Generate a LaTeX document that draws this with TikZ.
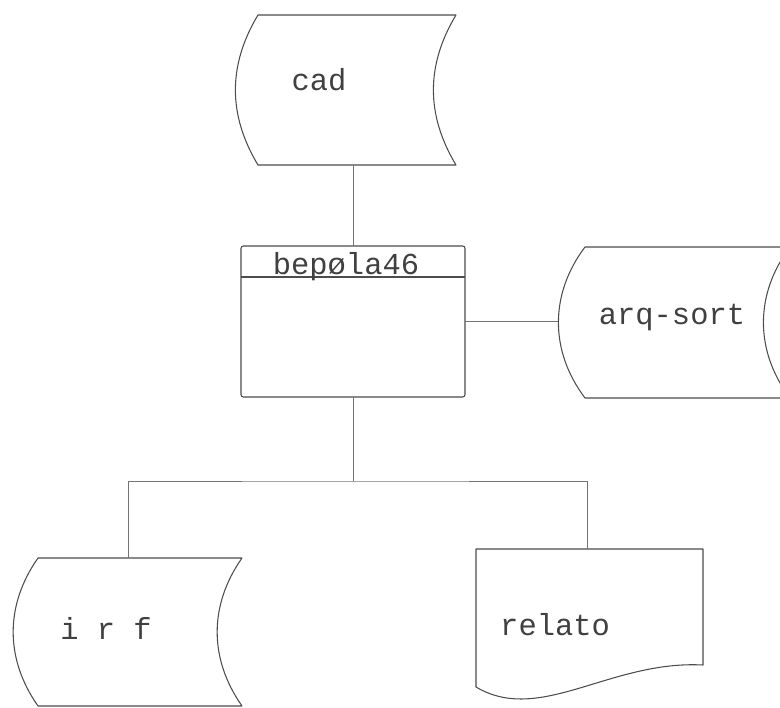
\documentclass[tikz,border=0pt]{standalone}
\usepackage{fontspec}
\newfontfamily\plotfont{Liberation Mono}
\usetikzlibrary{positioning}
\tikzset{
  outline/.style={draw=black!70, line width=0.9pt, line join=round},
  link/.style={draw=black!55, line width=0.7pt},
  slot/.style={inner sep=0pt, outer sep=0pt},
  lbl/.style={font=\plotfont\fontsize{26}{30}\selectfont, text=black!75, inner sep=0pt},
}
\begin{document}
\begin{tikzpicture}[x=0.03cm, y=-0.03cm]
\useasboundingbox (0,0) rectangle (780,708);

\node[slot, minimum width=5.94cm, minimum height=4.5cm] (cad) at (357,90) {};
\draw[outline] (cad.south west) to[bend left=31] (cad.north west) -- (cad.north east)
  to[bend right=31] (cad.south east) -- cycle;
\node[lbl] (cad-t) at ([shift={(-38,-10)}]cad.center) {cad};

\node[slot, minimum width=6.72cm, minimum height=4.53cm] (prog) at (353,321.5) {};
\draw[outline, rounded corners=2pt] (prog.north west) rectangle (prog.south east);
\draw[outline] ([shift={(0,31)}]prog.north west) -- ([shift={(0,31)}]prog.north east);
\node[lbl, anchor=base] (prog-t) at ([shift={(-7,29)}]prog.north) {bepøla46};

\node[slot, minimum width=6.15cm, minimum height=4.53cm] (arq) at (687.5,322.5) {};
\draw[outline] (arq.south west) to[bend left=37] coordinate[pos=0.5] (arq-w) (arq.north west)
  -- (arq.north east) to[bend right=37] (arq.south east) -- cycle;
\node[lbl] (arq-t) at ([shift={(-15.5,-4.5)}]arq.center) {arq-sort};

\node[slot, minimum width=6.12cm, minimum height=4.44cm] (irf) at (140,632) {};
\draw[outline] (irf.south west) to[bend left=35] (irf.north west) -- (irf.north east)
  to[bend right=35] (irf.south east) -- cycle;
\node[lbl] (irf-t) at ([shift={(-34,-4)}]irf.center) {i r f};

\node[slot, minimum width=6.81cm, minimum height=4.14cm] (rel) at (589.5,618) {};
\draw[outline] (rel.north west) -- (rel.north east) -- ([shift={(0,-22)}]rel.south east)
  .. controls +(-93,-5) and +(64,38) .. (rel.south west) -- cycle;
\node[lbl, anchor=west] (rel-t) at ([shift={(24,7)}]rel.west) {relato};

\draw[link] (prog.north) -- (prog.north |- cad.south);
\draw[link] (prog.east) -- (prog.east -| arq-w);
\draw[link] (prog.south) -- ++(0,84) coordinate (fork);
\draw[link] ([shift={(-12,0)}]irf.north) |- (fork) -| ([shift={(-2.5,0)}]rel.north);
\end{tikzpicture}
\end{document}
